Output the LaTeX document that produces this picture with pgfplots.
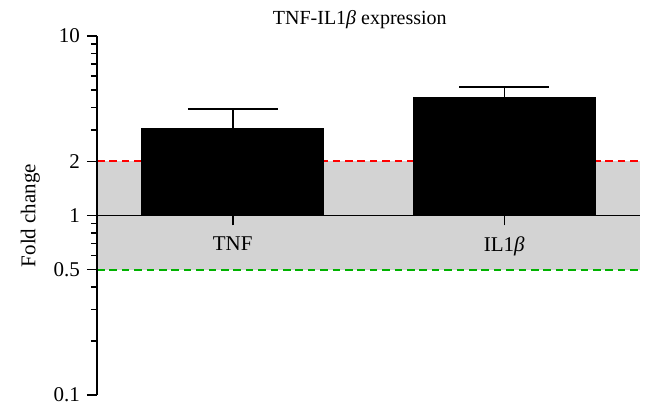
\documentclass[border=0pt]{standalone}
\usepackage{fontspec}
\setmainfont{Liberation Serif}
\usepackage{pgfplots}
\pgfplotsset{compat=1.18}

\definecolor{bandgray}{RGB}{211,211,211}

\begin{document}
\begin{tikzpicture}
\begin{axis}[
    scale only axis,
    width=271.5pt, height=179.5pt,
    ymode=log, log origin y=0,
    ymin=0.1, ymax=10,
    xmin=-0.5, xmax=1.5,
    axis y line*=left, axis x line*=middle,
    axis line style={line width=0.75pt},
    ytick={0.1,0.5,1,2,10},
    yticklabels={0.1,0.5,1,2,10},
    minor ytick={0.2,0.3,0.4,0.6,0.7,0.8,0.9,3,4,5,6,7,8,9},
    xtick={0,1},
    xticklabels={TNF, IL1\textit{β}},
    tick align=outside,
    major tick length=5pt, minor tick length=3pt,
    tick style={line width=0.75pt, black},
    /pgf/number format/assume math mode=true,
    tick label style={font=\fontsize{10.5}{12}\selectfont},
    x tick label style={yshift=-2pt},
    ylabel={Fold change},
    ylabel style={font=\fontsize{10.5}{12}\selectfont},
    title={TNF-IL1\textit{β} expression},
    title style={font=\fontsize{10}{12}\selectfont, at={(0.484,1)}, anchor=south, yshift=-6pt},
    axis on top,
    clip=false,
]
% gray band between 0.5 and 2
\addplot[fill=bandgray, draw=none] coordinates {(-0.5,0.5) (1.5,0.5) (1.5,2) (-0.5,2)} -- cycle;
\addplot[color=red, line width=1pt, dash pattern=on 3.8pt off 2.4pt, mark=none] coordinates {(-0.5,2) (1.5,2)};
\addplot[color=green!70!black, line width=1pt, dash pattern=on 3.8pt off 2.4pt, mark=none] coordinates {(-0.5,0.5) (1.5,0.5)};
% bars with upper error
\addplot[ybar, bar width=0.67, fill=black, draw=black,
    error bars/.cd, y dir=plus, y explicit,
    error bar style={line width=0.75pt, black},
    error mark options={line width=0.75pt, mark size=22.5pt, rotate=90}]
    coordinates {(0,3.07) +- (0,0.85) (1,4.57) +- (0,0.63)};
\end{axis}
\pgfresetboundingbox
\path[use as bounding box] (-48.5pt,-10pt) rectangle (277pt,197.5pt);
\end{tikzpicture}
\end{document}
